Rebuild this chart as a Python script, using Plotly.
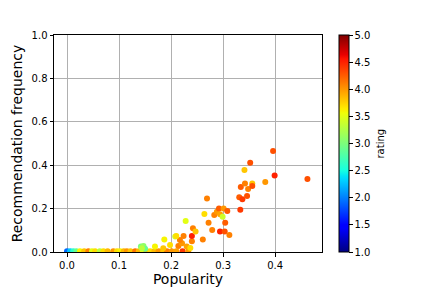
import plotly.graph_objects as go

popularity = [0.000, 0.006, 0.012, 0.018, 0.025, 0.033, 0.041, 0.048, 0.054, 0.063,
              0.070, 0.078, 0.089, 0.096, 0.102, 0.109, 0.115, 0.122, 0.131, 0.138,
              0.146, 0.153, 0.160, 0.168, 0.176, 0.185, 0.192, 0.201, 0.210, 0.222,
              0.233,
              0.142, 0.147, 0.150, 0.144, 0.169, 0.185, 0.198, 0.214, 0.230, 0.221,
              0.217, 0.187, 0.208, 0.210, 0.224, 0.228, 0.237, 0.240, 0.240, 0.242,
              0.247, 0.261, 0.264, 0.269, 0.272, 0.279, 0.283, 0.288, 0.292, 0.294,
              0.294, 0.299, 0.301, 0.303, 0.304, 0.308, 0.312, 0.331, 0.333, 0.334,
              0.337, 0.341, 0.342, 0.346, 0.348, 0.352, 0.356, 0.356, 0.381, 0.396,
              0.399, 0.462]
frequency = [0.004, 0.004, 0.004, 0.004, 0.004, 0.004, 0.004, 0.004, 0.004, 0.004,
             0.004, 0.004, 0.004, 0.004, 0.004, 0.004, 0.004, 0.004, 0.004, 0.004,
             0.004, 0.004, 0.004, 0.004, 0.004, 0.004, 0.004, 0.004, 0.004, 0.004,
             0.004,
             0.025, 0.028, 0.015, 0.017, 0.025, 0.017, 0.032, 0.028, 0.025, 0.040,
             0.055, 0.058, 0.071, 0.074, 0.074, 0.143, 0.018, 0.049, 0.074, 0.109,
             0.094, 0.058, 0.175, 0.247, 0.135, 0.101, 0.171, 0.186, 0.201, 0.174,
             0.095, 0.163, 0.201, 0.095, 0.135, 0.189, 0.078, 0.252, 0.195, 0.300,
             0.243, 0.378, 0.316, 0.258, 0.290, 0.411, 0.316, 0.304, 0.323, 0.465,
             0.353, 0.336]
rating = [1.9, 2.3, 2.6, 2.9, 3.6, 3.8, 4.1, 3.5, 3.7, 3.3,
          3.7, 3.85, 4.0, 3.7, 3.6, 3.85, 4.0, 3.8, 4.15, 3.85,
          3.5, 3.95, 3.7, 3.85, 4.0, 3.8, 4.1, 4.0, 3.95, 4.4,
          4.0,
          3.0, 3.1, 2.9, 3.3, 3.6, 3.8, 3.7, 4.1, 3.95, 4.0,
          4.1, 3.6, 3.4, 3.7, 4.1, 3.5, 3.7, 4.1, 4.5, 4.1,
          3.8, 4.1, 3.7, 4.1, 4.1, 4.1, 4.1, 4.0, 4.25, 3.95,
          4.5, 3.4, 4.0, 4.3, 4.25, 4.25, 4.1, 4.25, 4.4, 4.25,
          4.4, 3.8, 4.1, 4.3, 4.1, 4.3, 3.8, 4.3, 4.0, 4.3,
          4.5, 4.3]

colorbar_ticks = [1.0, 1.5, 2.0, 2.5, 3.0, 3.5, 4.0, 4.5, 5.0]

jet = [[0.0, "rgb(0,0,128)"], [0.11, "rgb(0,0,255)"], [0.125, "rgb(0,0,255)"],
       [0.34, "rgb(0,219,255)"], [0.35, "rgb(0,230,247)"], [0.375, "rgb(21,255,226)"],
       [0.64, "rgb(239,255,8)"], [0.65, "rgb(247,245,0)"], [0.66, "rgb(255,236,0)"],
       [0.89, "rgb(255,19,0)"], [0.91, "rgb(232,0,0)"], [1.0, "rgb(128,0,0)"]]

font = "DejaVu Sans"

fig = go.Figure(go.Scatter(
    x=popularity, y=frequency, mode="markers",
    marker=dict(
        size=6, color=rating, colorscale=jet, cmin=1, cmax=5,
        line=dict(width=0),
        colorbar=dict(
            tickvals=colorbar_ticks, tickformat=".1f",
            ticks="outside", ticklen=3.5, tickcolor="black",
            tickfont=dict(size=10, color="black", family=font),
            thickness=10, len=1, lenmode="fraction",
            x=1.063, xanchor="left", y=0, yanchor="bottom",
            outlinecolor="black", outlinewidth=1, xpad=0, ypad=0,
        ),
    ),
    showlegend=False,
))

axis_common = dict(
    showline=True, mirror=True, linecolor="black", linewidth=1,
    ticks="outside", ticklen=3.5, tickcolor="black",
    showgrid=True, gridcolor="#b0b0b0", gridwidth=0.8,
    zeroline=False, automargin=False,
    tickfont=dict(size=10, color="black", family=font),
)

fig.update_layout(
    width=432, height=288,
    margin=dict(l=54, r=110, t=35, b=36, autoexpand=False),
    paper_bgcolor="white", plot_bgcolor="white",
    font=dict(family=font, color="black"),
    xaxis=dict(range=[-0.025, 0.49], dtick=0.1, tick0=0, tickformat=".1f",
               title=dict(text="Popularity", font=dict(size=14, family=font, color="black"), standoff=4),
               **axis_common),
    yaxis=dict(range=[0, 1], dtick=0.2, tick0=0, tickformat=".1f",
               title=dict(text="Recommendation frequency", font=dict(size=14, family=font, color="black"), standoff=5),
               **axis_common),
    annotations=[dict(text="rating", textangle=-90, xref="paper", yref="paper",
                      x=(380 - 54) / 268, y=0.5, showarrow=False,
                      xanchor="center", yanchor="middle",
                      font=dict(size=10, color="black", family=font))],
)

fig.write_html("out.html",
               config={"displayModeBar": False},
               post_script="document.body.style.margin='0';document.body.style.padding='0';")
